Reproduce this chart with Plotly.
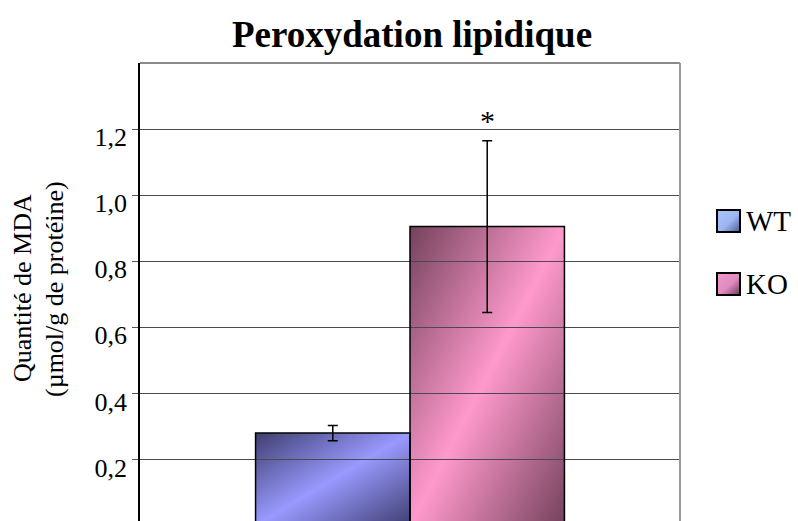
import base64
import plotly.graph_objects as go

# Lipid peroxidation: MDA content per genotype
CATEGORY = ["MDA"]
GROUPS = ["WT", "KO"]
MEANS = [0.28, 0.905]
ERRORS = [0.023, 0.26]
SIGNIF = ["", "*"]
TICKS = [0.2, 0.4, 0.6, 0.8, 1.0, 1.2]

# Diagonal dark-light-dark shading for each bar, and lighter swatches for the key
BAR_SHADES = {
    "WT": [(0, "#3e3e70"), (0.5, "#9999ff"), (1, "#3e3e70")],
    "KO": [(0, "#74425c"), (0.5, "#ff99cc"), (1, "#74425c")],
}
KEY_SHADES = {
    "WT": [(0, "#a8c4fb"), (0.55, "#9cb6f2"), (1, "#4c5a92")],
    "KO": [(0, "#ee98cc"), (0.55, "#e08cc0"), (1, "#6e3a58")],
}

FONT = "Liberation Serif"
BARGAP = 0.428

W, H = 798, 521
L, R, T, B = 140, 118, 63, 0


def px_x(px):
    return (px - L) / (W - L - R)


def px_y(py):
    return (H - B - py) / (H - T - B)


def gradient_uri(stops):
    stop_tags = "".join(
        f'<stop offset="{o}" stop-color="{c}"/>' for o, c in stops
    )
    svg = (
        '<svg xmlns="http://www.w3.org/2000/svg" width="100" height="100" '
        'viewBox="0 0 100 100" preserveAspectRatio="none">'
        '<defs><linearGradient id="g" x1="0" y1="0" x2="1" y2="1">'
        f"{stop_tags}</linearGradient></defs>"
        '<rect width="100" height="100" fill="url(#g)"/></svg>'
    )
    return "data:image/svg+xml;base64," + base64.b64encode(svg.encode()).decode()


fig = go.Figure()

for name, mean, err in zip(GROUPS, MEANS, ERRORS):
    fig.add_trace(
        go.Bar(
            x=CATEGORY,
            y=[mean],
            name=name,
            marker=dict(color="rgba(0,0,0,0)", line=dict(color="black", width=1.5)),
            error_y=dict(type="data", array=[err], color="black",
                         thickness=1.5, width=5),
            showlegend=False,
        )
    )

# Shaded fills sit under the outlined bars, in axis units
bar_w = (1 - BARGAP) / len(GROUPS)
images = []
for i, (name, mean) in enumerate(zip(GROUPS, MEANS)):
    left = -0.5 * (1 - BARGAP) + i * bar_w
    images.append(dict(
        source=gradient_uri(BAR_SHADES[name]),
        xref="x", yref="y", x=left, y=mean, sizex=bar_w, sizey=mean,
        xanchor="left", yanchor="top", sizing="stretch", layer="below",
    ))

annotations = []
shapes = []

# Significance mark above each error bar
for i, (mark, mean, err) in enumerate(zip(SIGNIF, MEANS, ERRORS)):
    if mark:
        center = -0.5 * (1 - BARGAP) + (i + 0.5) * bar_w
        annotations.append(dict(
            x=center, y=mean + err, xref="x", yref="y", text=mark,
            showarrow=False, yanchor="bottom", yshift=2,
            font=dict(family=FONT, size=30, color="black"),
        ))

# Two-line y-axis title
annotations.append(dict(
    x=px_x(22), y=px_y(288), xref="paper", yref="paper",
    text="Quantité de MDA", textangle=-90, showarrow=False,
    xanchor="center", yanchor="middle",
    font=dict(family=FONT, size=26, color="black"),
))
annotations.append(dict(
    x=px_x(54), y=px_y(289), xref="paper", yref="paper",
    text="(µmol/g de protéine)", textangle=-90, showarrow=False,
    xanchor="center", yanchor="middle",
    font=dict(family=FONT, size=26, color="black"),
))

# Key on the right: swatch + label
key_rows = [221, 284]
for name, cy in zip(GROUPS, key_rows):
    images.append(dict(
        source=gradient_uri(KEY_SHADES[name]),
        xref="paper", yref="paper", x=px_x(717), y=px_y(cy - 11),
        sizex=px_x(740) - px_x(717), sizey=px_y(cy - 11) - px_y(cy + 11),
        xanchor="left", yanchor="top", sizing="stretch", layer="above",
    ))
    shapes.append(dict(
        type="rect", xref="paper", yref="paper",
        x0=px_x(717), x1=px_x(740), y0=px_y(cy + 11), y1=px_y(cy - 11),
        line=dict(color="black", width=2), layer="above",
    ))
    annotations.append(dict(
        x=px_x(744), y=px_y(cy), xref="paper", yref="paper", text=name,
        showarrow=False, xanchor="left", yanchor="middle",
        font=dict(family=FONT, size=29, color="black"),
    ))

# Grey frame on the top and right of the plot area
shapes.append(dict(type="line", xref="paper", yref="paper",
                   x0=0, x1=1, y0=1, y1=1,
                   line=dict(color="#8a8a8a", width=2)))
shapes.append(dict(type="line", xref="paper", yref="paper",
                   x0=1, x1=1, y0=0, y1=1,
                   line=dict(color="#9a9a9a", width=2)))

fig.update_layout(
    width=W, height=H,
    margin=dict(l=L, r=R, t=T, b=B, pad=0),
    paper_bgcolor="white", plot_bgcolor="white",
    barmode="group", bargap=BARGAP, bargroupgap=0,
    separators=", ",
    title=dict(
        text="<b>Peroxydation lipidique</b>",
        x=px_x(412), xref="paper", xanchor="center",
        y=1 - 34 / H, yref="container", yanchor="middle",
        font=dict(family=FONT, size=37, color="black"),
    ),
    images=images, annotations=annotations, shapes=shapes,
    showlegend=False,
)

fig.update_xaxes(
    showgrid=False, zeroline=False, showline=False,
    showticklabels=False, ticks="", range=[-0.5, 0.5],
)
fig.update_yaxes(
    range=[0.0139, 1.4], tickvals=TICKS, tickformat=".1f",
    showgrid=True, gridcolor="#4a4a4a", gridwidth=1,
    zeroline=False, showline=True, linecolor="black", linewidth=1.5,
    ticks="outside", ticklen=6, tickcolor="#555555", tickwidth=1,
    ticklabelshift=8,
    tickfont=dict(family=FONT, size=26, color="black"),
)

fig.write_html("out.html")
